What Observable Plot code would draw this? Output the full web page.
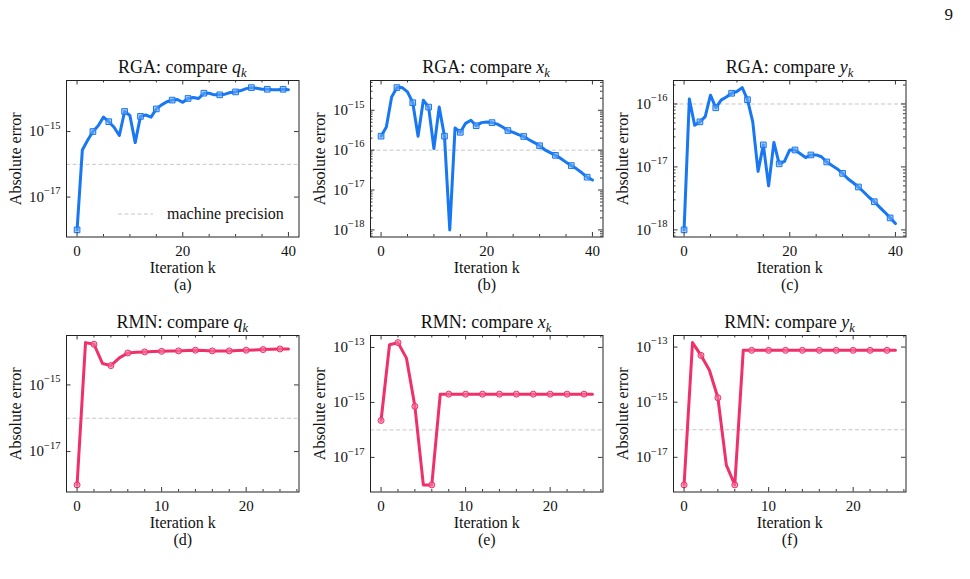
<!DOCTYPE html>
<html>
<head>
<meta charset="utf-8">
<script src="https://cdn.jsdelivr.net/npm/d3@7"></script>
<script src="https://cdn.jsdelivr.net/npm/@observablehq/plot@0.6"></script>
<style>
  html, body { margin: 0; padding: 0; background: #fff; }
  #page { position: relative; width: 970px; height: 579px; overflow: hidden;
          font-family: "Liberation Serif", "Times New Roman", serif; }
  #page svg { position: absolute; overflow: visible; }
  #page svg text { font-family: "Liberation Serif", "Times New Roman", serif; }
</style>
</head>
<body>
<div id="page"></div>
<script>
// Absolute error per iteration k, RGA (41 iterations) and RMN (26 iterations)
const rgaQ = [1e-18, 2.75e-16, 5.4e-16, 1.0e-15, 1.5e-15, 2.75e-15, 2.0e-15, 1.35e-15, 7.6e-16, 4.1e-15,
  3.1e-15, 4.6e-16, 2.9e-15, 3.2e-15, 2.75e-15, 4.9e-15, 6.5e-15, 8.1e-15, 9.1e-15, 9.5e-15,
  7.8e-15, 1.02e-14, 1.1e-14, 1.02e-14, 1.48e-14, 1.48e-14, 1.32e-14, 1.32e-14, 1.38e-14, 1.55e-14,
  1.62e-14, 1.78e-14, 2.04e-14, 2.19e-14, 2.09e-14, 1.95e-14, 1.95e-14, 1.9e-14, 1.9e-14, 1.95e-14, 1.9e-14];
const rgaX = [2.24e-16, 3.8e-16, 2.14e-15, 3.7e-15, 3.7e-15, 2.9e-15, 1.55e-15, 2.24e-16, 1.78e-15, 1.2e-15,
  1.1e-16, 1.2e-15, 2.24e-16, 1e-18, 3.6e-16, 2.8e-16, 4.7e-16, 5.6e-16, 4.1e-16, 4.9e-16,
  5.1e-16, 4.9e-16, 4.5e-16, 3.8e-16, 3.1e-16, 2.8e-16, 2.45e-16, 2.2e-16, 1.82e-16, 1.55e-16,
  1.29e-16, 1.02e-16, 8.7e-17, 7.4e-17, 6.2e-17, 5.0e-17, 4.1e-17, 3.4e-17, 2.7e-17, 2.1e-17, 1.78e-17];
const rgaY = [1e-18, 1.2e-16, 4.6e-17, 5.2e-17, 6.3e-17, 1.38e-16, 8.7e-17, 1.15e-16, 1.29e-16, 1.48e-16,
  1.58e-16, 1.82e-16, 1.17e-16, 5.2e-17, 8.5e-18, 2.24e-17, 5.0e-18, 2.45e-17, 1.12e-17, 1.23e-17,
  1.86e-17, 1.86e-17, 1.62e-17, 1.41e-17, 1.55e-17, 1.55e-17, 1.45e-17, 1.2e-17, 1.05e-17, 9.3e-18,
  7.9e-18, 6.5e-18, 5.6e-18, 4.8e-18, 4.0e-18, 3.3e-18, 2.8e-18, 2.3e-18, 1.9e-18, 1.55e-18, 1.26e-18];
const rmnQ = [1e-18, 1.86e-14, 1.66e-14, 4.4e-15, 3.8e-15, 6.5e-15, 9.1e-15, 9.5e-15, 9.8e-15, 1.0e-14,
  1.02e-14, 1.04e-14, 1.05e-14, 1.07e-14, 1.1e-14, 1.07e-14, 1.05e-14, 1.05e-14, 1.05e-14, 1.07e-14,
  1.1e-14, 1.12e-14, 1.15e-14, 1.17e-14, 1.2e-14, 1.2e-14];
const rmnX = [2.2e-16, 1.26e-13, 1.5e-13, 4.1e-14, 7.2e-16, 1e-18, 1e-18, 2.0e-15, 2.0e-15, 2.0e-15,
  2.0e-15, 2.0e-15, 2.0e-15, 2.0e-15, 2.0e-15, 2.0e-15, 2.0e-15, 2.0e-15, 2.0e-15, 2.0e-15,
  2.0e-15, 2.0e-15, 2.0e-15, 2.0e-15, 2.0e-15, 2.0e-15];
const rmnY = [1e-18, 1.45e-13, 5.0e-14, 1.44e-14, 1.45e-15, 5.2e-18, 1e-18, 7.6e-14, 7.6e-14, 7.6e-14,
  7.6e-14, 7.6e-14, 7.6e-14, 7.6e-14, 7.6e-14, 7.6e-14, 7.6e-14, 7.6e-14, 7.6e-14, 7.6e-14,
  7.6e-14, 7.6e-14, 7.6e-14, 7.6e-14, 7.6e-14, 7.6e-14];

const machinePrecision = 1e-16;

// Tick values
const rgaTicks = [0, 20, 40];
const rgaMinorTicks = [5, 10, 15, 25, 30, 35];
const rmnTicks = [0, 10, 20];
const rmnMinorTicks = [2, 4, 6, 8, 12, 14, 16, 18, 22, 24, 26];
const decadesA = [-15, -17];
const decadesB = [-15, -16, -17, -18];
const decadesC = [-16, -17, -18];
const decadesRMNq = [-15, -17];
const decadesRMN = [-13, -15, -17];

const panels = [
  {method: "RGA", sym: "q", letter: "a", values: rgaQ, xTicks: rgaTicks, xMinor: rgaMinorTicks, decades: decadesA, minorY: false, col: 0, row: 0},
  {method: "RGA", sym: "x", letter: "b", values: rgaX, xTicks: rgaTicks, xMinor: rgaMinorTicks, decades: decadesB, minorY: true, col: 1, row: 0},
  {method: "RGA", sym: "y", letter: "c", values: rgaY, xTicks: rgaTicks, xMinor: rgaMinorTicks, decades: decadesC, minorY: true, col: 2, row: 0},
  {method: "RMN", sym: "q", letter: "d", values: rmnQ, xTicks: rmnTicks, xMinor: rmnMinorTicks, decades: decadesRMNq, minorY: false, col: 0, row: 1},
  {method: "RMN", sym: "x", letter: "e", values: rmnX, xTicks: rmnTicks, xMinor: rmnMinorTicks, decades: decadesRMN, minorY: false, col: 1, row: 1},
  {method: "RMN", sym: "y", letter: "f", values: rmnY, xTicks: rmnTicks, xMinor: rmnMinorTicks, decades: decadesRMN, minorY: false, col: 2, row: 1}
];

const style = {
  RGA: {color: "#1877f2", symbol: "square", every: 3, r: 3.2},
  RMN: {color: "#f0306a", symbol: "circle", every: 2, r: 3}
};

// Layout of the axes frames
const FONT = "'Liberation Serif', 'Times New Roman', serif";
const FW = 232.5, FH = 156.5;
const ML = 66, MT = 80, MR = 6, MB = 60;
const colLeft = [66, 369.7, 673.3];
const rowTop = [80, 335];
const MAJ = 4.5, MIN = 2.5;
const INK = "#222";

const page = document.getElementById("page");

// matplotlib-like 5% padding of the data extent
function padLinear([a, b]) { const m = (b - a) * 0.05; return [a - m, b + m]; }
function padLog([a, b]) {
  const la = Math.log10(a), lb = Math.log10(b), m = (lb - la) * 0.05;
  return [10 ** (la - m), 10 ** (lb + m)];
}
function minorLog([lo, hi]) {
  const out = [];
  for (let e = Math.floor(Math.log10(lo)); e <= Math.ceil(Math.log10(hi)); e++)
    for (let m = 2; m <= 9; m++) { const v = m * 10 ** e; if (v >= lo && v <= hi) out.push(v); }
  return out;
}

for (const p of panels) {
  const s = style[p.method];
  const rows = p.values.map((v, k) => ({k, v}));
  const xDomain = padLinear([0, p.values.length - 1]);
  const yDomain = padLog(d3.extent(p.values));
  const yMajor = p.decades.map(e => 10 ** e);
  const yMinor = p.minorY ? minorLog(yDomain) : [];
  const tk = {stroke: INK, strokeWidth: 0.9};

  const svg = Plot.plot({
    width: ML + FW + MR,
    height: MT + FH + MB,
    marginLeft: ML, marginTop: MT, marginRight: MR, marginBottom: MB,
    style: `background: none; overflow: visible; font-family: ${FONT}; font-size: 16px; color: #111;`,
    x: {domain: xDomain},
    y: {type: "log", domain: yDomain},
    marks: [
      Plot.ruleY([machinePrecision], {stroke: "#c6c6c6", strokeWidth: 1, strokeDasharray: "4,2.5"}),
      Plot.line(rows, {x: "k", y: "v", stroke: s.color, strokeWidth: 3, strokeLinejoin: "round", strokeLinecap: "round"}),
      Plot.dot(rows, {filter: d => d.k % s.every === 0, x: "k", y: "v", symbol: s.symbol, r: s.r,
        stroke: s.color, strokeWidth: 1, fill: "#ffffff", fillOpacity: 0.35}),
      Plot.dot(rows, {filter: d => d.k % s.every === 0, x: "k", y: "v", symbol: s.symbol, r: s.r,
        fill: s.color, fillOpacity: 0.35, stroke: "none"}),
      // inward ticks on all four sides
      Plot.ruleX(p.xTicks, {...tk, insetTop: FH - MAJ}),
      Plot.ruleX(p.xTicks, {...tk, insetBottom: FH - MAJ}),
      Plot.ruleX(p.xMinor, {...tk, insetTop: FH - MIN}),
      Plot.ruleX(p.xMinor, {...tk, insetBottom: FH - MIN}),
      Plot.ruleY(yMajor, {...tk, insetRight: FW - MAJ}),
      Plot.ruleY(yMajor, {...tk, insetLeft: FW - MAJ}),
      Plot.ruleY(yMinor, {...tk, insetRight: FW - MIN}),
      Plot.ruleY(yMinor, {...tk, insetLeft: FW - MIN}),
      Plot.frame({stroke: INK, strokeWidth: 1}),
      Plot.axisX(p.xTicks, {tickSize: 0, tickPadding: 8, fontSize: 15, fontFamily: FONT, label: null}),
      Plot.axisY(yMajor, {tickSize: 0, tickPadding: 6, fontSize: 15, fontFamily: FONT, label: null,
        tickFormat: d => `10^${Math.round(Math.log10(d))}`}),
      Plot.text(["Absolute error"], {frameAnchor: "left", rotate: -90, dx: -46, lineAnchor: "bottom", textAnchor: "middle", fontSize: 16, fontFamily: FONT}),
      Plot.text(["Iteration k"], {frameAnchor: "bottom", dy: 35.5, lineAnchor: "bottom", fontSize: 16, fontFamily: FONT}),
      Plot.text([`(${p.letter})`], {frameAnchor: "bottom", dy: 52.5, lineAnchor: "bottom", fontSize: 16, fontFamily: FONT})
    ]
  });

  // power-of-ten tick labels: 10 with a raised exponent
  svg.querySelectorAll('g[aria-label="y-axis tick label"] text').forEach(t => {
    const parts = t.textContent.split("^");
    if (parts.length !== 2) return;
    t.textContent = parts[0];
    const sup = document.createElementNS("http://www.w3.org/2000/svg", "tspan");
    sup.setAttribute("dy", "-7.5");
    sup.setAttribute("font-size", "10.5");
    sup.textContent = parts[1].replace("-", "\u2212");
    t.appendChild(sup);
  });

  svg.style.left = `${colLeft[p.col] - ML}px`;
  svg.style.top = `${rowTop[p.row] - MT}px`;
  page.appendChild(svg);
}

// Titles, legend and page number
const overlay = d3.create("svg")
  .attr("width", 970).attr("height", 579)
  .style("left", "0px").style("top", "0px")
  .style("pointer-events", "none")
  .attr("font-family", FONT);

for (const p of panels) {
  const t = overlay.append("text")
    .attr("x", colLeft[p.col] + FW / 2)
    .attr("y", rowTop[p.row] - 7)
    .attr("text-anchor", "middle")
    .attr("font-size", 18)
    .attr("fill", "#111");
  t.append("tspan").text(`${p.method}: compare `);
  t.append("tspan").attr("font-style", "italic").text(p.sym);
  t.append("tspan").attr("font-style", "italic").attr("font-size", 12.5).attr("dy", 4).text("k");
}

// legend of panel (a)
const lg = overlay.append("g");
lg.append("line")
  .attr("x1", 118).attr("x2", 153).attr("y1", 214).attr("y2", 214)
  .attr("stroke", "#c6c6c6").attr("stroke-width", 1).attr("stroke-dasharray", "4,2.5");
lg.append("text")
  .attr("x", 167).attr("y", 219)
  .attr("font-size", 16).attr("fill", "#111")
  .text("machine precision");

overlay.append("text")
  .attr("x", 953).attr("y", 20)
  .attr("text-anchor", "end")
  .attr("font-size", 17).attr("fill", "#111")
  .text("9");

page.appendChild(overlay.node());
</script>
</body>
</html>
